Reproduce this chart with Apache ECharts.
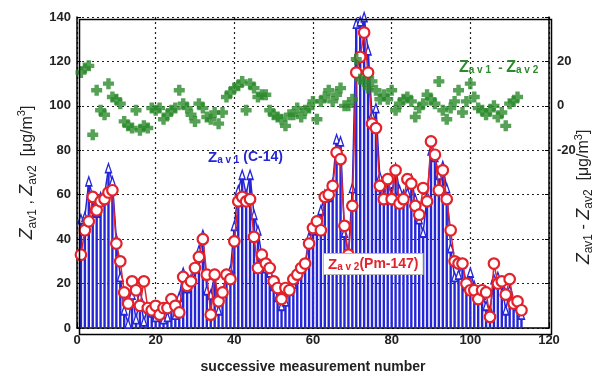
<!DOCTYPE html>
<html>
<head>
<meta charset="utf-8">
<script src="https://cdn.jsdelivr.net/npm/echarts@6/dist/echarts.min.js"></script>
<style>
	html, body { margin: 0; padding: 0; background: #fff; }
	#main { width: 607px; height: 379px; }
</style>
</head>
<body>
<div id="main"></div>
<script>
// measurement numbers 1..113
var xTicks = [0, 20, 40, 60, 80, 100, 120];
var rightTicks = [-20, 0, 20];

// Zav1 (C-14), blue stems
var zav1 = [49, 50, 66, 59, 52, 59, 60, 72, 66, 40, 23, 8, 2, 15, 4, 14, 3, 9, 7, 5,
	6, 4, 5, 10, 6, 14, 25, 18, 22, 27, 35, 42, 17, 15, 24, 8, 16, 24, 26, 46,
	62, 69, 60, 69, 51, 44, 32, 27, 25, 19, 14, 10, 12, 17, 20, 24, 27, 29, 41, 44,
	47, 53, 60, 59, 65, 85, 84, 43, 33, 63, 137, 138, 140, 125, 96, 99, 68, 66, 67, 60,
	72, 62, 60, 61, 67, 58, 49, 43, 59, 80, 77, 69, 73, 63, 36, 23, 24, 29, 19, 25,
	19, 13, 15, 10, 8, 22, 23, 20, 8, 17, 11, 10, 6];

// Zav2 (Pm-147), red circles
var zav2 = [33, 44, 48, 59, 53, 57, 58, 61, 62, 38, 30, 16, 11, 21, 17, 10, 21, 9, 8, 10,
	6, 9, 9, 13, 10, 7, 23, 19, 21, 27, 32, 40, 24, 6, 24, 12, 16, 24, 22, 39,
	57, 59, 57, 58, 41, 27, 33, 29, 27, 21, 18, 13, 18, 17, 22, 24, 27, 29, 38, 45,
	48, 44, 59, 60, 64, 79, 76, 46, 33, 55, 115, 122, 133, 115, 92, 90, 64, 58, 67, 58,
	71, 56, 58, 67, 65, 55, 51, 63, 57, 84, 78, 62, 71, 58, 44, 30, 29, 29, 20, 17,
	17, 13, 17, 16, 5, 29, 20, 21, 15, 22, 11, 12, 8];

// Zav1 - Zav2, green (right axis)
var diff = [15, 17, 18, -13, 7, -2, -4, 10, 4, 3, 1, -7, -9, -10, -2, -11, -9, -10, -1, -2,
	-1, -6, -4, -2, -1, 7, 1, -1, -4, -7, 1, -1, -5, -6, -3, -8, -3, 4, 6, 8,
	9, 11, -2, 10, 8, 4, 5, 5, -2, -4, -5, -6, -9, -4, -4, -1, -5, -2, -1, 2,
	-6, 2, 4, 7, 2, 5, 8, 0, 0, 3, 21, 12, 11, 8, 11, 7, 3, 5, 3, 7,
	-2, 1, 3, 4, 2, -5, -1, 1, 5, 3, 1, 11, -2, -6, -1, 2, 7, -3, 2, 10,
	4, -1, -2, -4, -2, 0, -5, -3, -9, 1, 2, 4];

function pairs(arr) {
	var out = [];
	for (var i = 0; i < arr.length; i++) {
		out.push([i + 1, arr[i]]);
	}
	return out;
}

var blue = '#2626d9';
var red = '#e3222b';
var green = '#2b8a2b';
var plusPath = 'path://M3,0h4v3h3v4h-3v3h-4v-3h-3v-4h3z';

var chart = echarts.init(document.getElementById('main'));
var option = {
	animation: false,
	grid: { left: 77, right: 58, top: 17, bottom: 47 },
	xAxis: {
		type: 'value',
		min: 0, max: 120, interval: 20,
		name: 'successive measurement number',
		nameLocation: 'middle',
		nameGap: 32,
		nameTextStyle: { fontFamily: 'Liberation Sans', fontWeight: 'bold', fontSize: 14, color: '#222' },
		axisLine: { show: true, onZero: false, lineStyle: { color: '#000', width: 1.5 } },
		axisTick: { inside: true, length: 4, lineStyle: { color: '#000' } },
		axisLabel: {
			fontFamily: 'Liberation Sans', fontWeight: 'bold', fontSize: 13, color: '#222', margin: 6,
			formatter: function (v) { return xTicks.indexOf(v) >= 0 ? v : ''; }
		},
		splitLine: { show: true, lineStyle: { type: [2, 3], color: '#222', width: 1.2 } }
	},
	yAxis: [{
		type: 'value',
		min: 0, max: 140, interval: 20,
		name: '{i|Z}{s|av1}{n| , }{i|Z}{s|av2}{n|  [μg/m}{p|3}{n|]}',
		nameLocation: 'middle',
		nameGap: 38,
		nameTextStyle: {
			rich: {
				i: { fontFamily: 'Liberation Sans', fontStyle: 'italic', fontSize: 18, color: '#222', lineHeight: 22 },
				n: { fontFamily: 'Liberation Sans', fontSize: 16, color: '#222', lineHeight: 22 },
				s: { fontFamily: 'Liberation Sans', fontSize: 12, color: '#222', verticalAlign: 'bottom', lineHeight: 22, padding: [8, 0, 0, 0] },
				p: { fontFamily: 'Liberation Sans', fontSize: 11, color: '#222', verticalAlign: 'top', lineHeight: 22, padding: [0, 0, 8, 0] }
			}
		},
		axisLine: { show: true, lineStyle: { color: '#000', width: 1.5 } },
		axisTick: { inside: true, length: 4, lineStyle: { color: '#000' } },
		axisLabel: { fontFamily: 'Liberation Sans', fontWeight: 'bold', fontSize: 13, color: '#222', margin: 6 },
		splitLine: { show: true, lineStyle: { type: [2, 3], color: '#222', width: 1.2 } }
	}, {
		type: 'value',
		min: -100, max: 40, interval: 20,
		position: 'right',
		axisLine: { show: true, lineStyle: { color: '#000', width: 1.5 } },
		axisTick: { inside: true, length: 4, lineStyle: { color: '#000' } },
		axisLabel: {
			fontFamily: 'Liberation Sans', fontWeight: 'bold', fontSize: 13, color: '#222', margin: 8,
			formatter: function (v) { return rightTicks.indexOf(v) >= 0 ? v : ''; }
		},
		splitLine: { show: false }
	}],
	graphic: [{
		type: 'rect', left: 77, top: 17,
		shape: { width: 472, height: 315 },
		style: { fill: 'none', stroke: '#000', lineWidth: 1.5 },
		silent: true, z: 100
	}, {
		type: 'text', x: 584, y: 197, rotation: Math.PI / 2,
		style: {
			text: '{i|Z}{s|av1}{n| - }{i|Z}{s|av2}{n|  [μg/m}{p|3}{n|]}',
			align: 'center', verticalAlign: 'middle',
			rich: {
				i: { fontFamily: 'Liberation Sans', fontStyle: 'italic', fontSize: 18, fill: '#222', lineHeight: 22 },
				n: { fontFamily: 'Liberation Sans', fontSize: 16, fill: '#222', lineHeight: 22 },
				s: { fontFamily: 'Liberation Sans', fontSize: 12, fill: '#222', verticalAlign: 'bottom', lineHeight: 22, padding: [8, 0, 0, 0] },
				p: { fontFamily: 'Liberation Sans', fontSize: 11, fill: '#222', verticalAlign: 'top', lineHeight: 22, padding: [0, 0, 8, 0] }
			}
		}
	}, {
		type: 'text', x: 208, y: 150, z: 50,
		style: {
			text: '{z|Z}{s|a v 1}{t| (C-14)}',
			rich: {
				z: { fontFamily: 'Liberation Sans', fontWeight: 'bold', fontSize: 15, fill: blue },
				s: { fontFamily: 'Liberation Sans', fontWeight: 'bold', fontSize: 10, fill: blue, padding: [5, 0, 0, 0] },
				t: { fontFamily: 'Liberation Sans', fontWeight: 'bold', fontSize: 14, fill: blue }
			}
		}
	}, {
		type: 'text', x: 324, y: 254, z: 50,
		style: {
			text: '{z|Z}{s|a v 2}{t|(Pm-147)}',
			backgroundColor: '#fff', borderColor: '#bbb', borderWidth: 1, padding: [3, 4, 2, 4],
			rich: {
				z: { fontFamily: 'Liberation Sans', fontWeight: 'bold', fontSize: 15, fill: red },
				s: { fontFamily: 'Liberation Sans', fontWeight: 'bold', fontSize: 10, fill: red, padding: [5, 0, 0, 0] },
				t: { fontFamily: 'Liberation Sans', fontWeight: 'bold', fontSize: 14, fill: red }
			}
		}
	}, {
		type: 'text', x: 459, y: 60, z: 50,
		style: {
			text: '{z|Z}{s|a v 1}{t|  - }{z|Z}{s|a v 2}',
			rich: {
				z: { fontFamily: 'Liberation Sans', fontWeight: 'bold', fontSize: 16, fill: green },
				s: { fontFamily: 'Liberation Sans', fontWeight: 'bold', fontSize: 10, fill: green, padding: [5, 0, 0, 0] },
				t: { fontFamily: 'Liberation Sans', fontWeight: 'bold', fontSize: 13, fill: green }
			}
		}
	}],
	series: [{
		name: 'Zav1 stems',
		type: 'bar',
		data: pairs(zav1),
		barWidth: 2.4,
		itemStyle: { color: blue },
		z: 1
	}, {
		name: 'Zav1 (C-14)',
		type: 'line',
		data: pairs(zav1),
		symbol: 'triangle',
		symbolSize: [6, 9],
		itemStyle: { color: '#fff', borderColor: blue, borderWidth: 1.5 },
		lineStyle: { color: blue, width: 1.5 },
		z: 2
	}, {
		name: 'Zav2 (Pm-147)',
		type: 'line',
		data: pairs(zav2),
		symbol: 'circle',
		symbolSize: 10.5,
		showAllSymbol: true,
		itemStyle: { color: '#fff', borderColor: red, borderWidth: 2.2 },
		lineStyle: { color: red, width: 1.5 },
		z: 3
	}, {
		name: 'Zav1 - Zav2',
		type: 'scatter',
		yAxisIndex: 1,
		data: pairs(diff),
		symbol: plusPath,
		symbolSize: 11,
		itemStyle: { color: green },
		z: 4
	}]
};
chart.setOption(option);
</script>
</body>
</html>
